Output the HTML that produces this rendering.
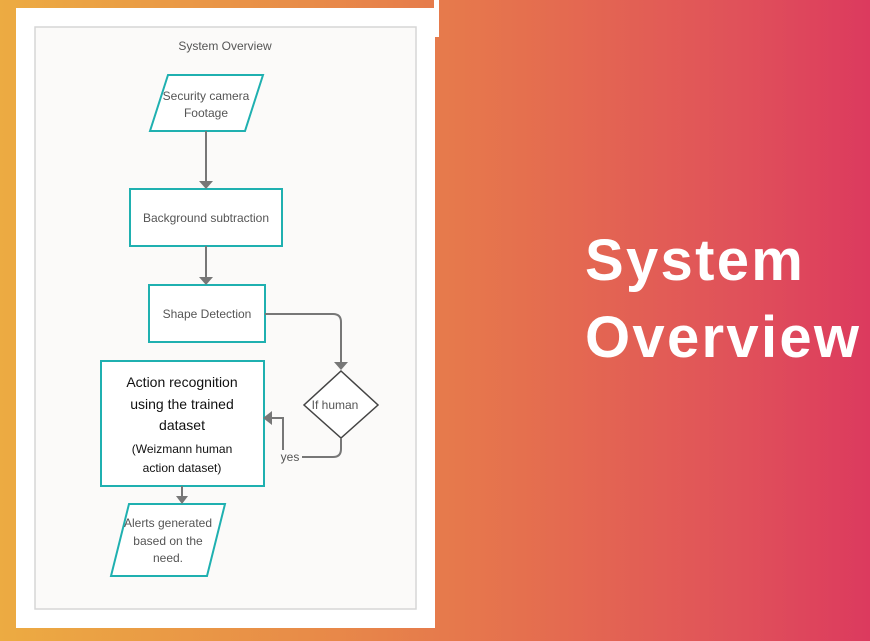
<!DOCTYPE html>
<html><head><style>
html,body{margin:0;padding:0}
body{width:870px;height:641px;overflow:hidden;position:relative;font-family:"Liberation Sans",sans-serif;
background:linear-gradient(90deg,#ecab42 0%,#e88c48 35%,#e5704e 60%,#e0515a 85%,#dc3a5e 100%);}
.panel{position:absolute;left:16px;top:8px;width:419px;height:620px;background:#fff}
.strip{position:absolute;left:434px;top:0;width:5px;height:37px;background:#fff}
.title{position:absolute;left:585px;top:222px;color:#fff;font-weight:bold;font-size:58px;line-height:77px;letter-spacing:2.3px}
</style></head><body>
<div class="panel"></div><div class="strip"></div>
<svg width="870" height="641" style="position:absolute;left:0;top:0" font-family="Liberation Sans, sans-serif">
<rect x="35" y="27" width="381" height="582" fill="#fbfaf9" stroke="#d6d6d6" stroke-width="1.5"/>
<text x="225" y="50" font-size="12" fill="#555" text-anchor="middle">System Overview</text>
<g fill="#fff" stroke="#1fb0b0" stroke-width="2">
<polygon points="168,75 263,75 245,131 150,131"/>
<rect x="130" y="189" width="152" height="57"/>
<rect x="149" y="285" width="116" height="57"/>
<rect x="101" y="361" width="163" height="125"/>
<polygon points="129,504 225,504 207,576 111,576"/>
</g>
<polygon points="341,371 378,405 341,438 304,405" fill="#fff" stroke="#444" stroke-width="1.5"/>
<g stroke="#777" stroke-width="2" fill="none">
<line x1="206" y1="131" x2="206" y2="183"/>
<line x1="206" y1="246" x2="206" y2="279"/>
<path d="M265,314 H333 Q341,314 341,322 V364"/>
<path d="M341,438 V449 Q341,457 333,457 H291 Q283,457 283,449 V418 H270"/>
<line x1="182" y1="486" x2="182" y2="498"/>
</g>
<rect x="278" y="450" width="24" height="14" fill="#fbfaf9"/>
<g fill="#777">
<polygon points="199,181 213,181 206,189"/>
<polygon points="199,277 213,277 206,285"/>
<polygon points="334,362 348,362 341,370"/>
<polygon points="272,411 272,425 263,418"/>
<polygon points="176,496 188,496 182,504"/>
</g>
<g font-size="12" fill="#555" text-anchor="middle">
<text x="206" y="100">Security camera</text><text x="206" y="117">Footage</text>
<text x="206" y="222">Background subtraction</text>
<text x="207" y="318">Shape Detection</text>
<text x="335" y="409">If human</text>
<text x="290" y="461">yes</text>
<text x="168" y="527">Alerts generated</text><text x="168" y="545">based on the</text><text x="168" y="562">need.</text>
</g>
<g fill="#111" text-anchor="middle">
<text x="182" y="387" font-size="14">Action recognition</text>
<text x="182" y="409" font-size="14">using the trained</text>
<text x="182" y="430" font-size="14">dataset</text>
<text x="182" y="453" font-size="12">(Weizmann human</text>
<text x="182" y="472" font-size="12">action dataset)</text>
</g>
</svg>
<div class="title">System<br>Overview</div>
</body></html>
